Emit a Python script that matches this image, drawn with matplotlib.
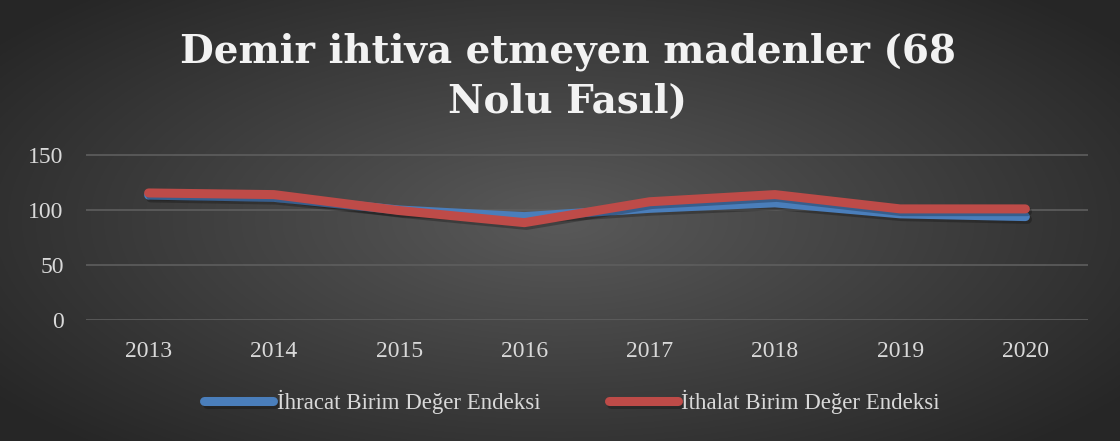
import numpy as np
import matplotlib.pyplot as plt
import matplotlib.patheffects as pe

years = ['2013', '2014', '2015', '2016', '2017', '2018', '2019', '2020']
ihracat = [113.5, 111.5, 100.0, 94.0, 101.5, 106.5, 96.5, 94.0]
ithalat = [115.5, 114.0, 99.5, 88.5, 107.5, 114.0, 101.0, 101.0]

BLUE = '#4a7ebb'
RED = '#be4b48'
TXT = '#d9d9d9'

fig = plt.figure(figsize=(11.2, 4.41), dpi=100)

# radial gradient background
bg = fig.add_axes([0, 0, 1, 1])
yy, xx = np.mgrid[-1:1:300j, -1:1:700j]
r = np.sqrt(xx ** 2 + (yy * 0.9) ** 2)
shade = 0.35 - 0.20 * np.clip(r / 1.25, 0, 1)
bg.imshow(np.dstack([shade] * 3), aspect='auto', extent=[0, 1, 0, 1])
bg.axis('off')

# axes: y=0 at 320px, 150 at 155px
ax = fig.add_axes([86 / 1120, 1 - 320 / 441, (1088 - 86) / 1120, (320 - 140) / 441])
ax.patch.set_alpha(0)
x = np.arange(len(years))
shadow = [pe.SimpleLineShadow(offset=(1.5, -2), shadow_color='black', alpha=0.25), pe.Normal()]
ax.plot(x, ihracat, color=BLUE, lw=6.5, solid_capstyle='round', solid_joinstyle='round',
        path_effects=shadow, label='İhracat Birim Değer Endeksi', clip_on=False)
ax.plot(x, ithalat, color=RED, lw=6.5, solid_capstyle='round', solid_joinstyle='round',
        path_effects=shadow, label='İthalat Birim Değer Endeksi', clip_on=False)

ax.set_xlim(-0.5, len(years) - 0.5)
ax.set_ylim(0, 180 / 1.1)
ax.set_yticks([0, 50, 100, 150])
ax.set_xticks(x)
ax.set_xticklabels(years)
ax.grid(axis='y', color='#5e5e5e', lw=1.2)
ax.set_axisbelow(True)
for s in ax.spines.values():
    s.set_visible(False)
ax.tick_params(length=0, colors=TXT, labelsize=17)
ax.tick_params(axis='y', pad=16)
ax.tick_params(axis='x', pad=15)
for lab in ax.get_xticklabels() + ax.get_yticklabels():
    lab.set_family('Liberation Serif')

fig.text(0.507, 1 - 52 / 441, 'Demir ihtiva etmeyen madenler (68', ha='center', va='center',
         color='#f2f2f2', fontsize=28, fontweight='bold', family='DejaVu Serif')
fig.text(0.507, 1 - 102 / 441, 'Nolu Fasıl)', ha='center', va='center',
         color='#f2f2f2', fontsize=28, fontweight='bold', family='DejaVu Serif')

leg = fig.legend(*ax.get_legend_handles_labels(), loc='center',
                 bbox_to_anchor=(572 / 1120, 1 - 402 / 441), ncol=2, frameon=False,
                 prop={'family': 'Liberation Serif', 'size': 16.5}, handlelength=3.0,
                 handletextpad=0.15, columnspacing=3.0)
for t in leg.get_texts():
    t.set_color(TXT)

fig.savefig('out.png', dpi=100)
